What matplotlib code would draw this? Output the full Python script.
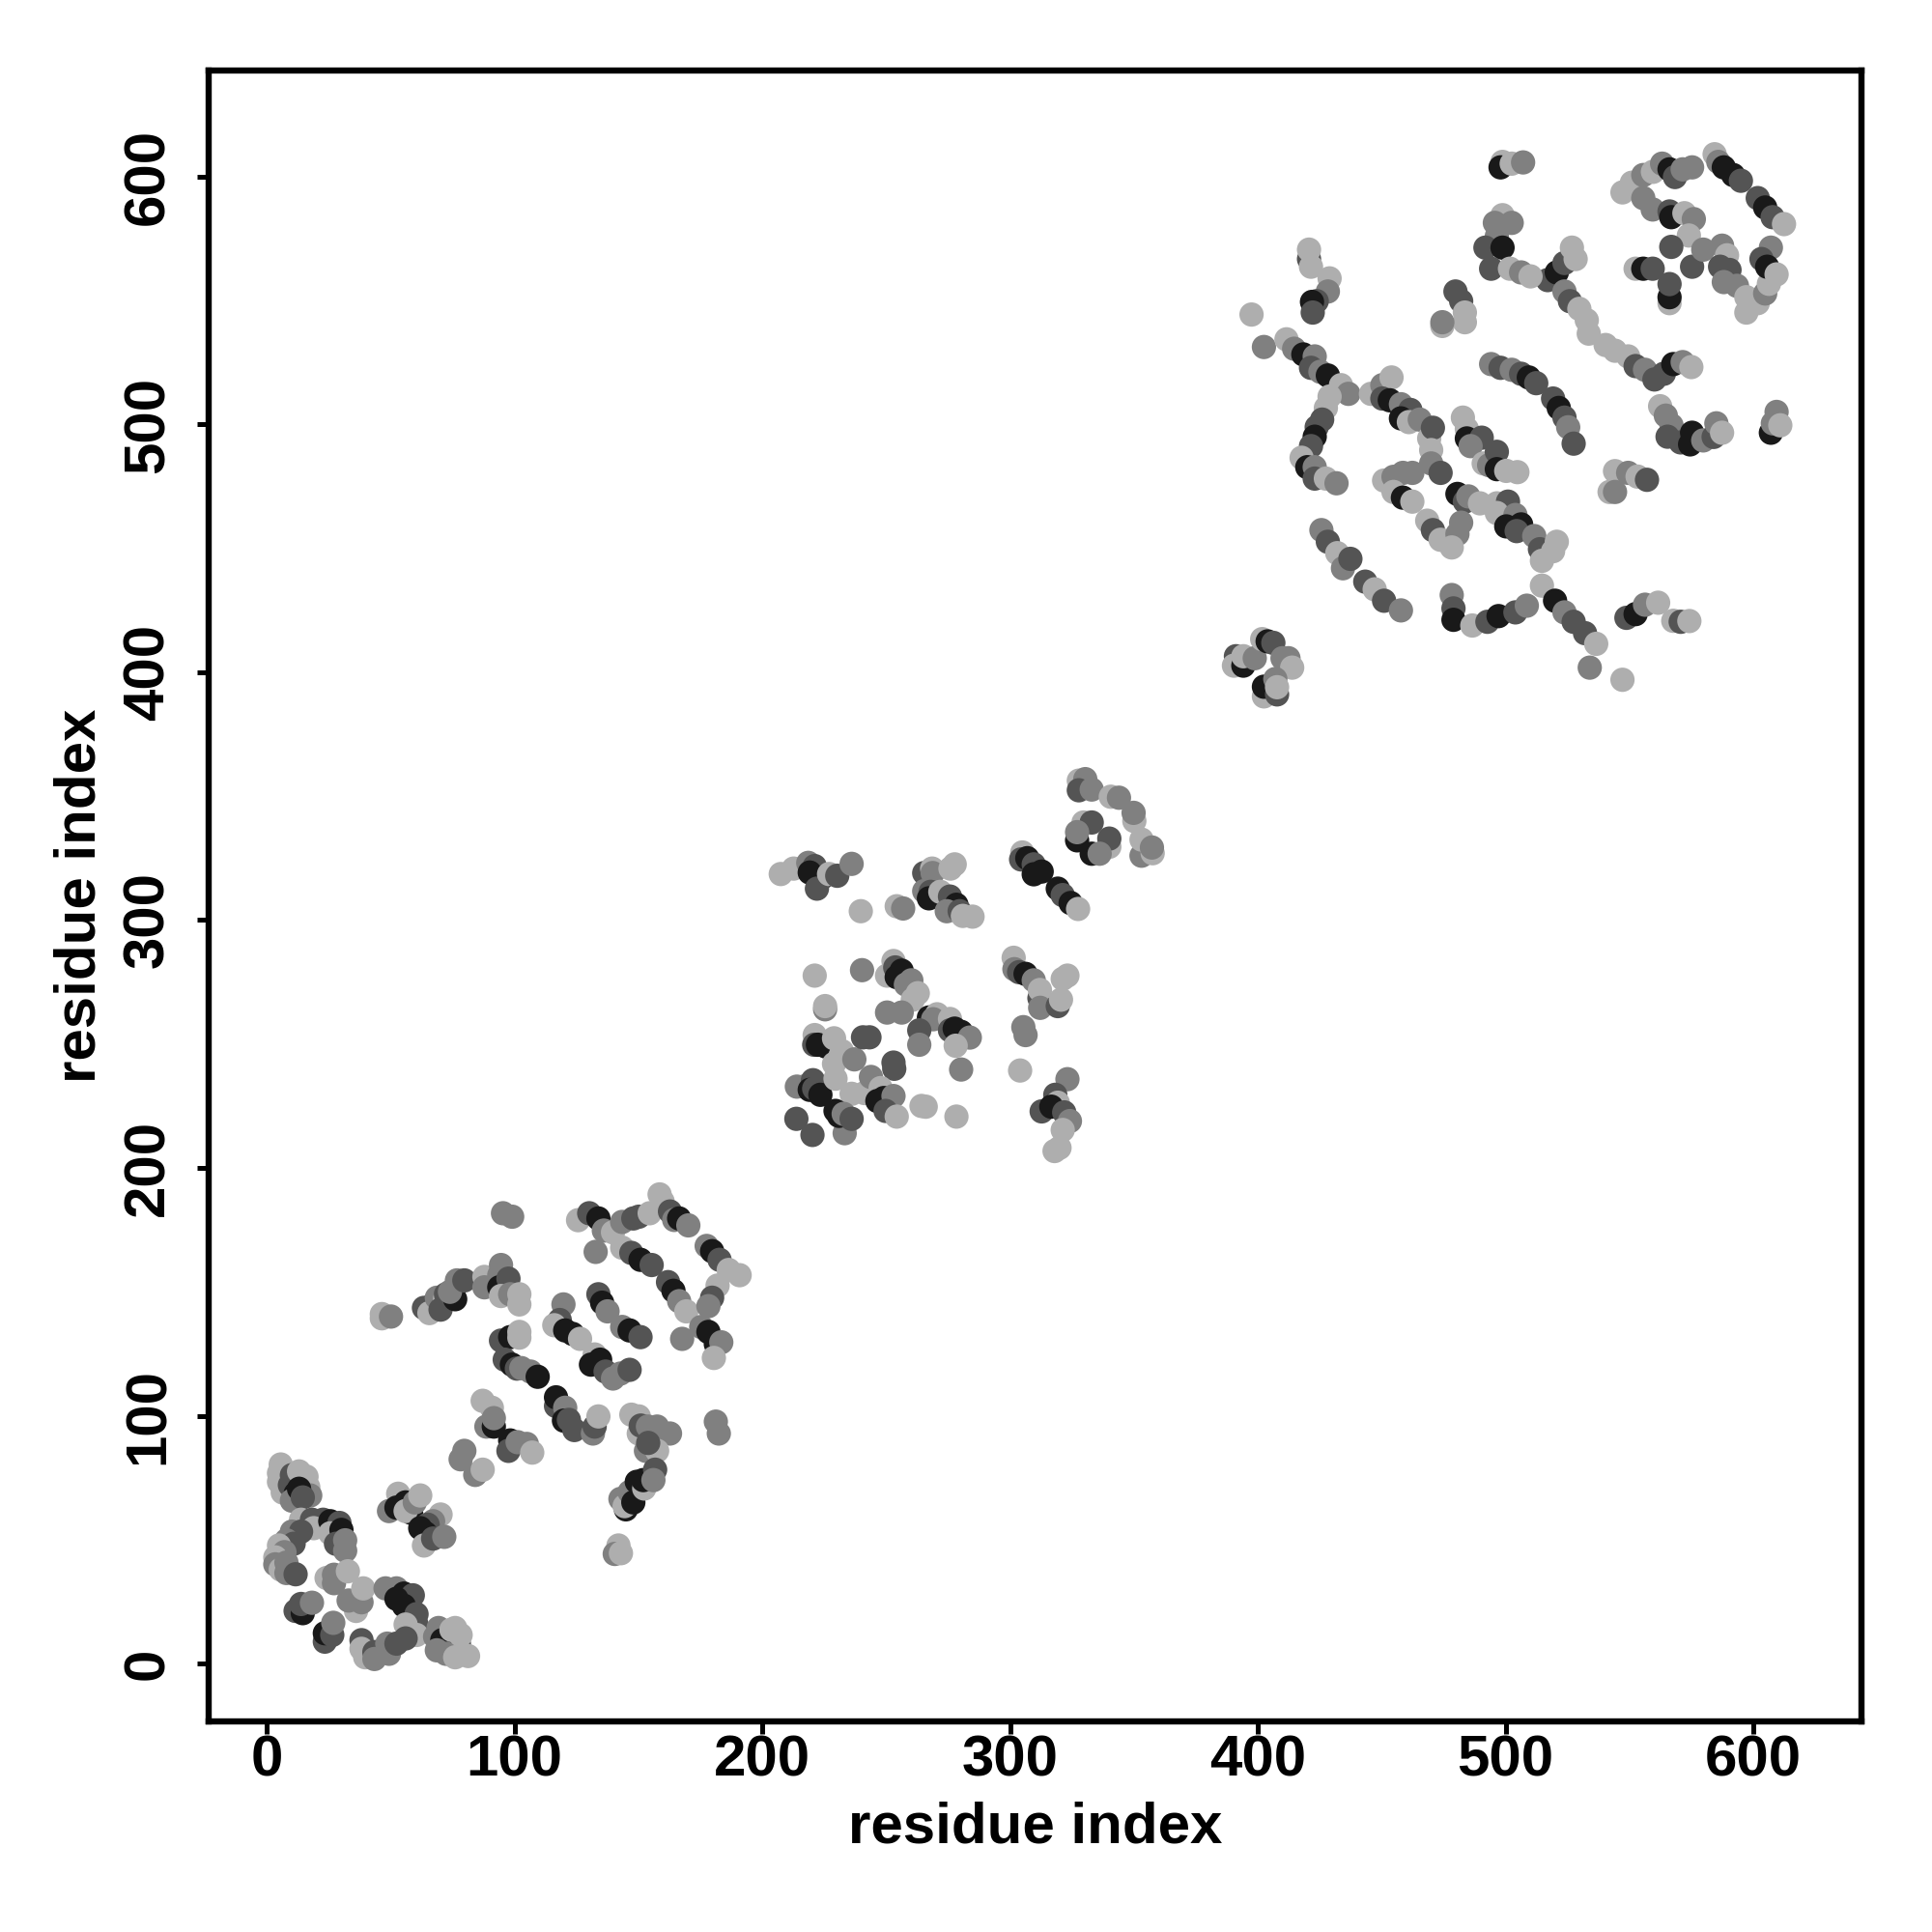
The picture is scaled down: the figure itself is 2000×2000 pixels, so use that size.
"""
Residue contact map: predicted contacts, one point per residue pair, shaded by score.
Points are read off the picture, grouped by the three domains along the diagonal.
"""
import numpy as np
import matplotlib
matplotlib.use("Agg")
import matplotlib.pyplot as plt

plt.rcParams["font.family"] = ["Liberation Sans", "DejaVu Sans"]

# grey levels of the points (0 black, 1 white)
K, D, M, L = 0.1, 0.33, 0.5, 0.68

tick_values = [0, 100, 200, 300, 400, 500, 600]
axis_label = "residue index"

# rows are (residue i, residue j, grey)
domain_low = [
    (5.7, 80.3, L), (5, 76.8, L), (5, 73.3, L), (6.5, 69, L), (10.2, 76, D), (9.4, 72, D), (11.7, 68.5, K),
    (10.2, 65.7, M), (13.1, 77.5, L), (16.1, 75.4, L), (16.8, 71.2, L), (17.6, 67.8, M), (13.1, 70.5, K), (14.6, 67, D),
    (13.9, 58, L), (18.3, 58, D), (22.8, 58, D), (19, 54.6, L), (25.7, 57.4, K), (29.4, 56.7, D), (25.7, 52.5, L),
    (30.2, 53.9, K), (28, 48.3, D), (31.7, 49.7, M), (31.7, 45.5, M),
    (10.2, 53.2, M), (13.9, 53.2, D), (8, 49.7, M), (10.9, 48.3, D), (5, 47.6, L), (7.2, 44.9, M), (3.5, 42.8, L),
    (3.5, 40, M), (5.7, 37.9, L), (8, 40.7, M), (8, 36.5, M), (11.7, 36, D),
    (24.2, 34.5, L), (27.2, 35.8, M), (27.2, 32.4, M), (32.8, 37.2, L), (36.1, 21.2, L), (33.1, 25.4, M), (38.3, 24.7, M), (39, 30.3, L),
    (11.7, 21.2, D), (14.6, 20.3, K), (13.9, 24, D), (18.3, 24.5, M),
    (23.5, 8.8, D), (23.5, 12.2, K), (26.5, 11.5, D), (26.9, 16.4, M),
    (48, 30.3, M), (52.4, 30.3, M), (55.4, 28.2, K), (59, 27.5, D), (52.4, 26.1, K), (55.4, 23.3, K), (60.5, 19.9, D),
    (60.5, 15.7, D), (56.1, 15.7, L), (60.5, 11.5, L), (56.1, 10.1, D),
    (38.3, 9.4, D), (38.3, 5.9, L), (39.8, 2.5, L), (43.5, 4.6, D), (43.5, 1.8, M), (48.7, 8, M), (49.4, 3.9, M), (52.4, 8, D),
    (68, 10.8, M), (69.4, 14.3, M), (70.9, 9.4, K), (74.6, 8.8, K), (77.6, 8, D), (68.7, 5.3, M), (74.6, 13.6, L), (76.1, 14.3, L),
    (72.4, 3.9, M), (78.3, 11.5, L), (76.1, 2.5, L), (81.3, 3, L),
    (53.1, 68.5, L), (49.4, 61.5, M), (52.4, 62.9, K), (56.1, 65, K), (58.3, 60.8, K), (56.1, 61.5, L), (59.8, 65, M), (62, 67.8, L),
    (70.2, 60.1, L), (67.2, 57.4, M), (65, 56, D), (62, 54.6, K), (64.2, 52.5, K), (63.5, 47.6, L), (67.2, 50.4, D), (71.7, 51.1, M),
    (79.8, 85.8, M), (78.3, 82.4, M), (84.2, 76.1, M), (87.2, 78.2, L),
    (87.2, 106, L), (90.9, 103.2, L), (88.7, 95.6, M), (91.7, 95.6, K), (91.7, 99, M), (98.3, 90, K), (97.6, 85.8, D),
    (101.3, 89.3, M), (105, 88.6, M), (107.2, 85.1, L),
    (46.5, 139.3, L), (46.5, 141, L), (50.2, 140, M), (95.4, 181.7, M), (99.1, 180.3, M),
    (63.5, 143.5, D), (67.2, 144.9, D), (65.7, 141.4, L), (68.7, 147.6, M), (72, 147, L), (70.2, 142.8, D), (72.4, 149, D),
    (76.1, 147, K), (74, 150, M), (76.8, 154.6, M), (79.8, 154.6, D),
    (87.9, 156, L), (87.9, 151.8, M), (94.6, 160.8, M), (93.9, 156.7, M), (93.9, 151.8, K), (97.6, 155.3, D), (94.6, 148.3, L),
    (98.3, 149, M), (102, 149, L), (102, 144.9, L),
    (94.6, 130.3, D), (98.3, 131.7, K), (102, 133.8, L), (102, 131.5, L),
    (96.1, 122.6, D), (99, 120.6, K), (101, 119, D), (102.8, 119.2, M), (106.5, 117.8, M), (109.4, 115.7, K),
    (116.8, 103.9, D), (116.8, 107.4, K), (120.5, 103.2, M), (120, 98, K), (122, 98.3, D), (124.2, 94.2, D),
    (131.7, 92.8, M), (132.4, 95.6, D), (133.9, 99.7, L),
    (147.2, 100.4, L), (150.2, 99.7, L), (150.2, 92.8, L), (151, 96, D), (153.9, 95.6, M), (157.6, 95.6, M), (162.8, 92.8, M),
    (153.1, 85.8, M), (157.6, 85.8, L), (154, 89, D),
    (181.3, 97.6, M), (182.5, 92.8, M),
    (142.8, 66.4, M), (145, 62.2, K), (144.5, 63.5, L), (146.5, 69.2, M), (148, 65, K), (149.4, 73.3, K), (152.4, 70.6, L),
    (152, 74, K), (156.8, 78.2, D), (156.1, 74, M),
    (142, 47.6, L), (140.5, 44.2, M), (143, 44.5, L),
    (119.8, 144.9, M), (118.3, 138.6, D), (116.1, 136.5, L), (120.5, 134.4, K), (123.5, 133, K), (126.5, 131, L),
    (133.9, 149, D), (135.4, 145.6, K), (137.6, 142.1, M), (143.5, 135.8, M), (146.5, 134.4, K), (150.9, 131.7, D),
    (132.4, 124.7, L), (134.6, 122.6, K), (130.9, 120.6, K), (136.8, 117.8, D), (139.8, 115, M), (142.8, 117, M), (146.5, 118.5, D),
    (125.7, 178.9, L), (130.2, 181.7, D), (133.9, 179.6, K), (136.1, 174.7, M), (139.8, 174, L), (143.5, 178.2, M),
    (148, 179.6, D), (150.2, 180.3, D), (154.6, 181.7, L),
    (158.6, 189.3, L), (159.8, 186.5, L), (162.8, 182.4, D), (164.5, 179, M), (166.5, 179.6, K), (170.2, 176.8, M),
    (143.5, 167.8, L), (147.2, 165.7, D), (150.9, 162.9, K), (155.4, 160.8, D), (132.8, 166.1, M),
    (162, 153.9, D), (164.2, 150.4, K), (166.5, 146.2, M), (169.4, 142.1, L), (167.7, 131, M),
    (177.6, 168.5, M), (179.8, 166.4, K), (182.8, 162.9, D), (186.5, 158.8, L), (190.9, 156.7, L), (182, 152.5, L),
    (179.8, 147.6, D), (178.3, 144.2, M),
    (175.4, 135.8, M), (178.3, 133.8, K), (181.3, 128.9, K), (183.5, 129.6, M), (180.5, 123.3, L),
]

domain_mid = [
    (207.5, 318.6, L), (212.7, 320.8, L), (218.6, 323.1, M), (221.2, 321.8, D), (219.2, 319.2, K), (224.4, 317.3, K),
    (222.1, 312.7, D), (227, 318.6, L), (230.3, 317.9, D), (236.1, 322.7, M),
    (239.8, 303.6, L), (254.3, 305.6, L), (256.9, 304.7, M),
    (265.4, 319, D), (268.6, 320.8, L), (268.8, 319, M), (277.7, 322.5, L), (276, 320.8, L),
    (265.4, 311.7, M), (268, 311.4, D), (267.3, 308.8, K), (271.9, 311.4, L), (275.8, 309.5, D), (278.4, 306.2, K),
    (274.5, 303.6, M), (279.7, 303.6, D), (281, 301.7, L), (284.9, 301.4, L),
    (305, 327.3, L), (304.5, 324.5, D), (307, 325, K), (309.6, 322.5, D), (309.6, 318.5, K), (312.8, 319.6, K),
    (319.3, 312.7, K), (321.3, 310.1, D), (324.5, 306.9, K), (327.5, 304.5, L),
    (327.8, 356.3, L), (330.4, 356.9, M), (327.8, 352.4, D), (333, 352.7, M), (340.7, 349.8, L), (344, 349.4, M),
    (350.2, 340, L), (349.9, 343.3, M), (353.1, 326, M), (353.1, 332.5, L), (357.6, 327, L), (357.3, 329.3, M),
    (329.7, 339.4, L), (333, 339.4, D), (327.1, 332.2, K), (327.1, 335.5, M), (340.1, 329.6, L), (340.1, 332.9, D),
    (333, 326.8, K), (336.2, 326.8, M),
    (221.2, 277.6, L), (240.3, 279.8, M),
    (253, 283.5, L), (250.4, 277.6, L), (253.7, 280.9, D), (254.3, 277, K), (256.3, 279.6, K), (258, 274, M), (260.2, 275.7, M),
    (260.8, 267.9, L), (262.8, 270.5, L),
    (250.4, 262.7, M), (256.3, 262.7, M), (225.4, 264, M), (225.4, 265.3, L),
    (267.3, 260.7, K), (270.6, 262, L), (269, 260, M), (275.8, 260.1, L), (275.8, 255.5, D), (277.7, 256.2, K), (280.3, 254.9, K), (283.8, 252.6, M),
    (263.4, 255.5, D), (263.4, 249.7, M), (278.1, 249.3, L), (280.3, 239.7, M),
    (221.2, 253.6, L), (221, 249.7, D), (222.5, 249.7, K), (225.7, 249, K), (229, 252.3, L), (229, 242, L), (231.5, 245, L), (232.2, 247.1, L), (237.2, 243.8, M),
    (240.7, 252.7, D), (243.3, 252.7, D), (253.3, 240, D), (253, 242.5, D),
    (214, 232.8, M), (217.5, 233, M), (220.5, 235.4, D), (219.2, 231.5, K), (221, 232, D), (223.5, 229.5, K),
    (229.6, 236, L), (236.1, 229.9, L), (241.3, 230.2, L), (243.9, 236.7, M), (247.8, 232.2, L), (246.5, 227, K), (249.1, 228.2, K),
    (253, 229, M), (249.8, 223, D), (254.3, 220.7, L),
    (264.3, 225, L), (266, 224.7, L), (278.4, 220.7, L),
    (213.8, 219.8, D), (220.3, 213.3, D), (233.3, 214, M), (229.6, 223, K), (231, 221, K), (232.9, 221.8, M), (236.1, 219.8, D),
    (304.1, 239.3, L), (323.2, 235.8, M), (318.3, 229.5, D), (319.3, 226.3, L), (312.8, 222.8, D), (316.7, 224.7, K),
    (321.9, 222.4, D), (324.2, 218.9, M), (321.3, 215.3, L), (320, 208.1, L), (318, 206.8, L),
    (301.5, 284.8, L), (301.8, 280.2, M), (303.7, 279, D), (306.3, 278.3, K), (309.6, 275.7, M), (311.9, 268.5, D), (312.1, 271.8, L),
    (312.2, 264.6, M), (319.3, 265.3, D), (320.6, 267.9, L), (321.3, 276.3, L), (323.2, 277.6, L),
    (305.4, 256.8, M), (306.3, 253.6, M),
]

domain_high = [
    (391.2, 406.5, D), (390.4, 402.7, L), (394.2, 402.7, K), (394.2, 406.5, L), (398.8, 405.7, M), (401.8, 413.4, L),
    (404, 412.5, K), (406.3, 411.9, D), (410, 405.7, M), (412.4, 405.7, M), (413.9, 401.9, L),
    (402.5, 390.3, L), (402.5, 394.2, K), (407.8, 391.1, D), (407.1, 397.3, M), (407.8, 394, L),
    (397.5, 544.4, L), (402.5, 531.3, M),
    (420.7, 566.8, D), (420.7, 570.6, L), (421.5, 563.7, L),
    (429, 559, L), (428.3, 553.7, M), (423.8, 549.8, D), (421.9, 549.5, K), (422.2, 545.2, D),
    (411.6, 534.4, L), (414.7, 530.6, M), (418.4, 528.3, K), (423, 527.5, M), (421.5, 522.9, D), (425.3, 521.3, M),
    (428.3, 519.8, K), (433.6, 515.9, L), (436.6, 512.4, M), (429, 511.3, L),
    (427.5, 506.7, L), (426, 502, D), (423.8, 499, D), (423, 495.1, K), (421.5, 491.3, D), (417.7, 486.6, L), (420, 482.8, K),
    (423, 482.8, M), (423, 478.2, D), (427.5, 478.2, L), (431.8, 476.3, M),
    (445.7, 512.4, L), (450.3, 515.9, M), (454, 519, L), (450.3, 510.5, D), (453.3, 509.8, K), (457.8, 508.2, M), (461.6, 505.9, D),
    (457.8, 502.5, K), (461, 501, L), (465.4, 502, M), (469.2, 494.4, L), (470.7, 498.7, D), (470, 489.7, L),
    (482.8, 502.8, L), (484.4, 498.2, L), (484.4, 494.4, K), (490.4, 494.7, D), (485.9, 491.3, M),
    (470, 484.3, M), (473.8, 480.5, D), (451, 477.4, L), (454.8, 478.9, M), (458.6, 480.5, M), (462.4, 480.5, M),
    (454.8, 472.8, L), (458.6, 470.5, K), (462.4, 468.9, L),
    (480.6, 472, K), (483.6, 468.9, D), (485, 471, M), (489.7, 468.2, L), (496.5, 468.2, L),
    (491.2, 484.3, L), (493.4, 483.6, M), (496.5, 489, D), (496.5, 482, K), (500.3, 481.3, L), (504.8, 480.8, L),
    (501, 468.9, D), (496.5, 464.3, L), (504, 463.5, M), (500.3, 458.9, K), (506.3, 459.7, K), (504.5, 457, D), (511.6, 455, M),
    (513.9, 449.7, D), (514.7, 445, L), (519.2, 448.9, L), (520.7, 452.7, L),
    (468.4, 461.2, L), (470.7, 457.4, D), (473.8, 453.5, L), (482.1, 460.4, M), (480.6, 455.8, M), (478.3, 450.4, L),
    (425.7, 457.4, M), (428.3, 452.7, D), (432.1, 448.1, L), (434.4, 442, M), (437.4, 445.8, D),
    (443.4, 436.6, D), (447.2, 433.5, L), (451, 428.9, D), (457.8, 425, M),
    (478.3, 431.2, M), (479, 425.8, D), (479, 421.2, K), (486.6, 418.9, L), (492.7, 420.4, D), (497.2, 422.7, K), (504, 424.2, D),
    (508.6, 426.9, M), (514.7, 435, L), (520, 428.9, K), (523.8, 424.2, M), (527.5, 420.4, D), (532.1, 415.8, D), (536.6, 411.5, L),
    (534, 401.9, M), (547.2, 397, L),
    (548.8, 422, D), (552.5, 423.5, K), (556.3, 427.3, M), (561.6, 428.1, L), (567.7, 420.8, L), (570.7, 420.4, D), (574.2, 420.7, L),
    (544.2, 481.2, L), (549.5, 480.5, M), (553.3, 479, L), (557.1, 477.7, D), (542, 472.8, L), (544.2, 472.8, M),
    (494.2, 524.4, M), (498, 522.9, D), (502.5, 522.1, M), (506.3, 520.5, D), (509.4, 519, K), (512.4, 516.7, D),
    (519.2, 510.5, D), (521.5, 506.7, K), (523.8, 502.8, D), (525.3, 498.9, M), (527.5, 492.3, D),
    (562.4, 507.4, L), (564.7, 503.6, M), (567, 499.7, M), (565.4, 495.1, D), (570.7, 492.8, D), (574.5, 492, K), (575.3, 496.7, K),
    (579.8, 493.6, M), (584, 495, D), (585.1, 500.5, M), (587.4, 496.7, L),
    (607.1, 496.7, K), (609.4, 505.1, M), (607.9, 500.5, M), (610.9, 499.7, L),
    (517, 558.3, D), (520.7, 561.4, K), (523.8, 565.2, D), (526.8, 571.4, L), (528.3, 566.8, L), (523.8, 553.7, M), (526, 549.8, D),
    (529.8, 546.7, L), (532.8, 542.1, L), (533.6, 536.7, L), (540.4, 532.1, L), (544.2, 529.8, L), (549.5, 527.5, L),
    (552.5, 523.6, D), (556.3, 522.1, M), (560.1, 518.2, D), (563.9, 520.5, D), (567.7, 524.4, K), (571.5, 525.2, M), (575, 523.2, L),
    (498.8, 606, L), (498, 603.8, K), (502.5, 605.3, L), (507.1, 605.8, M),
    (498.8, 584.5, L), (495.7, 581.4, M), (502.5, 581.4, M), (496.5, 576, M), (491.9, 571.4, D), (498.8, 571.4, K),
    (494.2, 562.9, D), (501.8, 562.9, L), (506.3, 561.4, M), (510.1, 559.8, L),
    (479.8, 553.7, D), (482.1, 549.8, D), (483.6, 545.2, L), (483.6, 541.3, L), (474.5, 539.8, L), (474.5, 541.3, M),
    (547.2, 593.7, L), (551, 597.6, L), (555.6, 600.7, M), (559.5, 602, L), (563.2, 605.3, M), (566.2, 603, K), (568.4, 599.9, D),
    (571.5, 603, M), (575.3, 603.8, M),
    (555.6, 591.4, M), (559.4, 586.8, M), (566.2, 586, D), (566.9, 583.7, K), (572.2, 585.3, L), (576, 582.9, M), (574, 576.3, L),
    (584.4, 609.1, L), (585.9, 606, M), (588.1, 603.8, K), (591.9, 600.7, K), (595, 598.4, D),
    (601.8, 591.4, D), (604.8, 587.6, K), (607.8, 583.7, D), (612.4, 580.9, L),
    (566.9, 571.7, D), (575.3, 563.7, D), (579.8, 570.6, M), (587.4, 572.2, M), (589.4, 568.3, L), (586.6, 563.7, D),
    (590.4, 562.4, D), (588.1, 557.5, M), (593.4, 556, M), (597.2, 551.4, L), (597.2, 545.2, L), (601.8, 549, L),
    (604.8, 552.9, M), (606.3, 556.8, L), (607.1, 571.4, M), (603.3, 566.8, D), (605.6, 563.7, K), (609.4, 560.6, L),
    (552.5, 562.9, L), (555.6, 562.9, K), (559.4, 562.9, D), (566.2, 549, L), (566.2, 551.4, K), (566.2, 556.7, D),
]


def draw_domain(ax, rows):
    arr = np.array(rows)
    ax.scatter(arr[:, 0], arr[:, 1], s=82, c=arr[:, 2], cmap="gray", vmin=0, vmax=1,
               linewidths=0)


def main():
    fig = plt.figure(figsize=(10, 10), dpi=200)
    ax = fig.add_axes([216 / 2000, 1 - 1782 / 2000, 1711 / 2000, 1709 / 2000])
    for rows in (domain_low, domain_mid, domain_high):
        draw_domain(ax, rows)

    ax.set_xlim((216 - 276) / 2.565, (1927 - 276) / 2.565)
    ax.set_ylim((1722 - 1782) / 2.565, (1722 - 73) / 2.565)
    ax.set_xticks(tick_values)
    ax.set_yticks(tick_values)
    ax.set_xticklabels([str(v) for v in tick_values], fontsize=21.6, fontweight="bold")
    ax.set_yticklabels([str(v) for v in tick_values], fontsize=21.6, fontweight="bold",
                       rotation=90, va="center")
    ax.tick_params(axis="both", length=4.5, width=1.8)
    ax.tick_params(axis="x", pad=0.5)
    ax.tick_params(axis="y", pad=8)
    for sp in ax.spines.values():
        sp.set_linewidth(2.3)
    ax.set_xlabel(axis_label, fontsize=21.6, fontweight="bold", labelpad=5)
    ax.set_ylabel(axis_label, fontsize=21.6, fontweight="bold", labelpad=5.7)

    fig.savefig("out.png", dpi=200)
    plt.close(fig)


if __name__ == "__main__":
    main()
